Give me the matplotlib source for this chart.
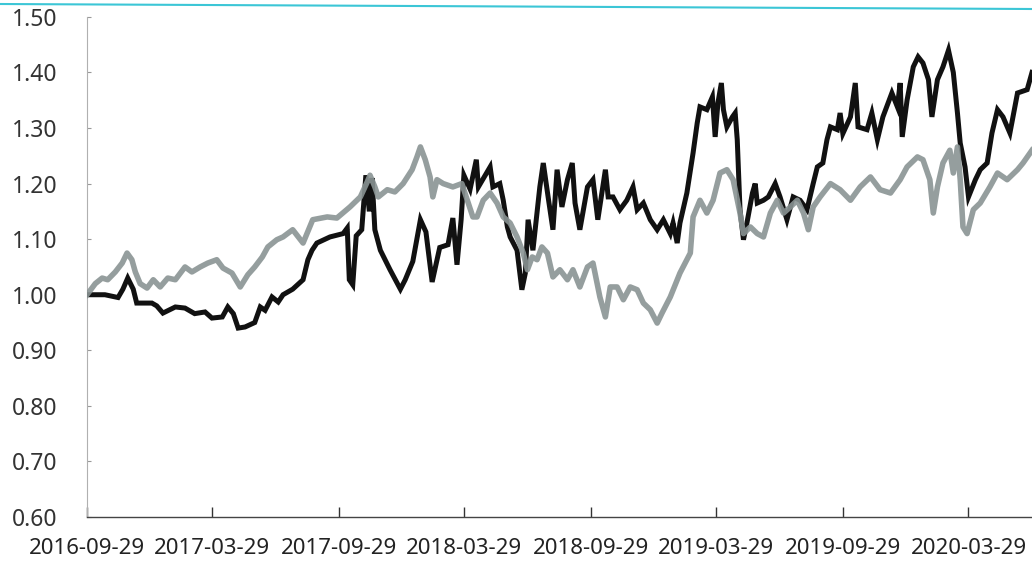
import matplotlib
matplotlib.use('Agg')
import matplotlib.pyplot as plt
import pandas as pd
from matplotlib.lines import Line2D

# black series (net value)
black_dates = [
    '2016-09-29', '2016-10-25', '2016-11-13', '2016-11-20', '2016-11-27', '2016-12-05',
    '2016-12-10', '2017-01-01', '2017-01-08', '2017-01-17', '2017-02-04', '2017-02-18',
    '2017-03-04', '2017-03-19', '2017-03-29', '2017-04-13', '2017-04-21', '2017-04-29',
    '2017-05-06', '2017-05-16', '2017-05-30', '2017-06-07', '2017-06-14', '2017-06-24',
    '2017-07-03', '2017-07-10', '2017-07-24', '2017-08-08', '2017-08-15', '2017-08-21',
    '2017-08-28', '2017-09-16', '2017-10-05', '2017-10-11', '2017-10-14', '2017-10-19',
    '2017-10-24', '2017-11-01', '2017-11-07', '2017-11-12', '2017-11-16', '2017-11-20',
    '2017-11-28', '2017-12-12', '2017-12-27', '2018-01-03', '2018-01-14', '2018-01-25',
    '2018-02-02', '2018-02-11', '2018-02-22', '2018-03-06', '2018-03-13', '2018-03-19',
    '2018-03-25', '2018-03-29', '2018-04-07', '2018-04-16', '2018-04-19', '2018-05-06',
    '2018-05-10', '2018-05-20', '2018-05-25', '2018-05-31', '2018-06-04', '2018-06-14',
    '2018-06-21', '2018-06-26', '2018-06-30', '2018-07-07', '2018-07-17', '2018-07-22',
    '2018-07-29', '2018-08-05', '2018-08-11', '2018-08-18', '2018-08-26', '2018-09-02',
    '2018-09-06', '2018-09-13', '2018-09-24', '2018-10-02', '2018-10-09', '2018-10-20',
    '2018-10-24', '2018-10-31', '2018-11-10', '2018-11-20', '2018-11-29', '2018-12-05',
    '2018-12-14', '2018-12-24', '2019-01-03', '2019-01-12', '2019-01-22', '2019-01-26',
    '2019-02-01', '2019-02-05', '2019-02-15', '2019-02-24', '2019-03-02', '2019-03-06',
    '2019-03-16', '2019-03-24', '2019-03-28', '2019-04-01', '2019-04-06', '2019-04-09',
    '2019-04-14', '2019-04-22', '2019-04-26', '2019-04-29', '2019-05-03', '2019-05-08',
    '2019-05-13', '2019-05-21', '2019-05-25', '2019-05-28', '2019-06-06', '2019-06-13',
    '2019-06-23', '2019-06-30', '2019-07-10', '2019-07-19', '2019-07-29', '2019-08-08',
    '2019-08-17', '2019-08-23', '2019-08-31', '2019-09-06', '2019-09-11', '2019-09-21',
    '2019-09-25', '2019-09-29', '2019-10-10', '2019-10-17', '2019-10-21', '2019-11-03',
    '2019-11-10', '2019-11-18', '2019-11-26', '2019-12-09', '2019-12-17', '2019-12-21',
    '2019-12-24', '2019-12-31', '2020-01-09', '2020-01-16', '2020-01-23', '2020-01-31',
    '2020-02-05', '2020-02-13', '2020-02-21', '2020-02-29', '2020-03-07', '2020-03-13',
    '2020-03-17', '2020-03-24', '2020-03-29', '2020-04-08', '2020-04-15', '2020-04-25',
    '2020-05-02', '2020-05-10', '2020-05-18', '2020-05-28', '2020-06-08', '2020-06-22',
    '2020-06-29',
]
black_values = [
    1.000, 1.000, 0.995, 1.010, 1.030, 1.010,
    0.985, 0.985, 0.980, 0.967, 0.978, 0.976,
    0.966, 0.969, 0.958, 0.960, 0.978, 0.966,
    0.940, 0.942, 0.950, 0.978, 0.972, 0.996,
    0.987, 1.000, 1.010, 1.027, 1.063, 1.080,
    1.093, 1.104, 1.110, 1.120, 1.027, 1.018,
    1.106, 1.117, 1.215, 1.150, 1.210, 1.117,
    1.080, 1.045, 1.010, 1.027, 1.060, 1.135,
    1.113, 1.023, 1.085, 1.090, 1.138, 1.054,
    1.135, 1.215, 1.190, 1.243, 1.194, 1.230,
    1.194, 1.200, 1.170, 1.122, 1.104, 1.080,
    1.009, 1.039, 1.135, 1.080, 1.194, 1.237,
    1.176, 1.117, 1.225, 1.158, 1.207, 1.237,
    1.165, 1.117, 1.194, 1.207, 1.135, 1.225,
    1.176, 1.176, 1.153, 1.170, 1.194, 1.153,
    1.165, 1.135, 1.117, 1.135, 1.110, 1.129,
    1.093, 1.129, 1.183, 1.255, 1.309, 1.338,
    1.333, 1.356, 1.284, 1.345, 1.381, 1.333,
    1.302, 1.320, 1.327, 1.279, 1.153, 1.099,
    1.129, 1.183, 1.200, 1.165, 1.170, 1.176,
    1.200, 1.176, 1.135, 1.176, 1.170, 1.153,
    1.200, 1.230, 1.237, 1.279, 1.302, 1.297,
    1.327, 1.290, 1.320, 1.381, 1.302, 1.297,
    1.327, 1.279, 1.320, 1.363, 1.338, 1.381,
    1.284, 1.350, 1.410, 1.428, 1.417, 1.387,
    1.320, 1.387, 1.410, 1.440, 1.400, 1.327,
    1.273, 1.230, 1.176, 1.207, 1.225, 1.237,
    1.291, 1.333, 1.320, 1.291, 1.363, 1.369,
    1.400,
]

# gray series (benchmark)
gray_dates = [
    '2016-09-29', '2016-10-11', '2016-10-21', '2016-10-29', '2016-11-09', '2016-11-19',
    '2016-11-26', '2016-12-03', '2016-12-08', '2016-12-15', '2016-12-25', '2017-01-03',
    '2017-01-13', '2017-01-24', '2017-02-04', '2017-02-18', '2017-02-28', '2017-03-12',
    '2017-03-23', '2017-04-05', '2017-04-14', '2017-04-27', '2017-05-09', '2017-05-20',
    '2017-05-30', '2017-06-10', '2017-06-18', '2017-07-01', '2017-07-10', '2017-07-24',
    '2017-08-08', '2017-08-22', '2017-09-12', '2017-09-26', '2017-10-15', '2017-10-30',
    '2017-11-09', '2017-11-13', '2017-11-20', '2017-11-25', '2017-12-08', '2017-12-19',
    '2017-12-31', '2018-01-13', '2018-01-20', '2018-01-25', '2018-02-01', '2018-02-08',
    '2018-02-12', '2018-02-18', '2018-02-27', '2018-03-13', '2018-03-26', '2018-04-03',
    '2018-04-11', '2018-04-17', '2018-04-26', '2018-05-06', '2018-05-16', '2018-05-25',
    '2018-06-04', '2018-06-14', '2018-06-23', '2018-06-29', '2018-07-06', '2018-07-13',
    '2018-07-20', '2018-07-28', '2018-08-05', '2018-08-15', '2018-08-26', '2018-09-03',
    '2018-09-13', '2018-09-24', '2018-10-02', '2018-10-12', '2018-10-20', '2018-10-27',
    '2018-11-06', '2018-11-15', '2018-11-25', '2018-12-05', '2018-12-14', '2018-12-24',
    '2019-01-03', '2019-01-10', '2019-01-22', '2019-02-05', '2019-02-20', '2019-02-24',
    '2019-03-06', '2019-03-16', '2019-03-25', '2019-04-04', '2019-04-14', '2019-04-23',
    '2019-05-03', '2019-05-08', '2019-05-18', '2019-05-28', '2019-06-06', '2019-06-16',
    '2019-06-26', '2019-07-05', '2019-07-15', '2019-07-25', '2019-08-03', '2019-08-10',
    '2019-08-17', '2019-08-27', '2019-09-11', '2019-09-25', '2019-10-10', '2019-10-24',
    '2019-11-08', '2019-11-22', '2019-12-07', '2019-12-21', '2019-12-31', '2020-01-15',
    '2020-01-23', '2020-02-02', '2020-02-07', '2020-02-13', '2020-02-21', '2020-03-02',
    '2020-03-07', '2020-03-13', '2020-03-17', '2020-03-21', '2020-03-27', '2020-04-05',
    '2020-04-15', '2020-04-29', '2020-05-10', '2020-05-24', '2020-06-08', '2020-06-16',
    '2020-06-29',
]
gray_values = [
    1.000, 1.020, 1.030, 1.027, 1.041, 1.057,
    1.075, 1.063, 1.041, 1.020, 1.012, 1.027,
    1.014, 1.030, 1.027, 1.050, 1.041, 1.050,
    1.057, 1.063, 1.048, 1.039, 1.014, 1.036,
    1.050, 1.068, 1.086, 1.099, 1.104, 1.117,
    1.093, 1.135, 1.140, 1.138, 1.158, 1.176,
    1.203, 1.215, 1.194, 1.176, 1.189, 1.185,
    1.200, 1.225, 1.248, 1.266, 1.243, 1.212,
    1.176, 1.207, 1.200, 1.194, 1.200, 1.170,
    1.140, 1.140, 1.170, 1.183, 1.165, 1.140,
    1.129, 1.104, 1.075, 1.045, 1.068, 1.063,
    1.086, 1.075, 1.032, 1.045, 1.027, 1.045,
    1.014, 1.050, 1.057, 0.996, 0.960, 1.014,
    1.014, 0.991, 1.014, 1.009, 0.985, 0.973,
    0.949, 0.967, 0.996, 1.039, 1.075, 1.140,
    1.170, 1.147, 1.170, 1.219, 1.225, 1.207,
    1.147, 1.110, 1.122, 1.110, 1.104, 1.147,
    1.170, 1.147, 1.158, 1.170, 1.147, 1.117,
    1.158, 1.176, 1.200, 1.189, 1.170, 1.194,
    1.212, 1.189, 1.183, 1.207, 1.230, 1.248,
    1.243, 1.207, 1.147, 1.194, 1.237, 1.260,
    1.219, 1.266, 1.207, 1.122, 1.110, 1.153,
    1.165, 1.194, 1.219, 1.207, 1.225, 1.237,
    1.260,
]

tick_labels = ['2016-09-29', '2017-03-29', '2017-09-29', '2018-03-29',
               '2018-09-29', '2019-03-29', '2019-09-29', '2020-03-29']
y_ticks = [0.60, 0.70, 0.80, 0.90, 1.00, 1.10, 1.20, 1.30, 1.40, 1.50]

plt.rcParams['font.family'] = ['Noto Sans', 'DejaVu Sans']

fig = plt.figure(figsize=(10.32, 5.62), dpi=100)
ax = fig.add_axes([0.0843, 0.080, 0.9157, 0.890])

ax.plot(pd.to_datetime(black_dates), black_values, color='#111111', lw=3.6,
        solid_joinstyle='miter', zorder=3)
ax.plot(pd.to_datetime(gray_dates), gray_values, color='#8a9494', lw=4.0,
        alpha=0.9, zorder=4)

ax.set_ylim(0.60, 1.50)
ax.set_yticks(y_ticks)
ax.set_yticklabels(['%.2f' % v for v in y_ticks])
ax.set_xlim(pd.Timestamp('2016-09-29'), pd.Timestamp('2020-06-29'))
ax.set_xticks(pd.to_datetime(tick_labels))
ax.set_xticklabels(tick_labels)

for side in ['top', 'right']:
    ax.spines[side].set_visible(False)
ax.spines['left'].set_color('#b0b0b0')
ax.spines['left'].set_linewidth(0.8)
ax.spines['bottom'].set_color('#444444')
ax.spines['bottom'].set_linewidth(1.0)

ax.tick_params(axis='x', direction='in', length=7, width=1, color='#333333',
               labelsize=16, labelcolor='#222222', pad=15)
ax.tick_params(axis='y', direction='in', length=3, width=0.8, color='#999999',
               labelsize=16.5, labelcolor='#333333', pad=21)

# cyan rule along the top of the scanned page
fig.add_artist(Line2D([0, 1], [1 - 4 / 562, 1 - 9 / 562], transform=fig.transFigure,
                      color='#3cc6d6', lw=1.5))

fig.savefig('out.png', dpi=100)
